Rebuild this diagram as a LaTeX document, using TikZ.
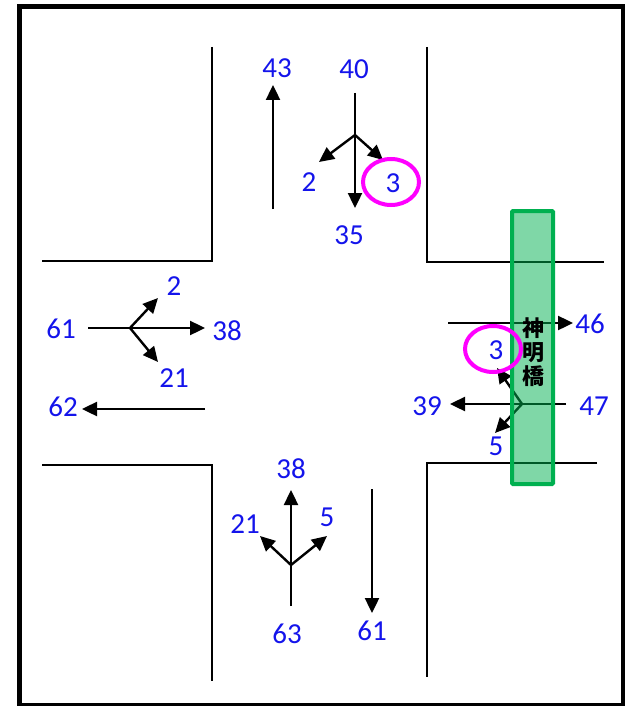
\documentclass[tikz,border=0pt]{standalone}
\usepackage{fontspec}
\setmainfont{Carlito}
\newfontfamily\cjk{Noto Sans CJK JP}
\usetikzlibrary{arrows.meta}
\definecolor{numblue}{RGB}{20,20,235}
\definecolor{bridgegreen}{RGB}{0,176,80}
\definecolor{ringmag}{RGB}{255,0,255}
\tikzset{
  road/.style={line width=1.5pt, black},
  flow/.style={line width=2.4pt, black, -{Triangle[length=15pt,width=14pt]}},
  flowline/.style={line width=2.4pt, black},
  num/.style={text=numblue, font=\fontsize{29}{31}\selectfont, inner sep=0pt},
  ring/.style={draw=ringmag, line width=4pt},
}
\begin{document}
\begin{tikzpicture}[x=1pt,y=-1pt]
\useasboundingbox (0,0) rectangle (624,706);
\draw[line width=5pt] (19.5,7) rectangle (623,705.5);

% road edges
\draw[road] (212,47) -- (212,261) -- (42,261);
\draw[road] (427,47) -- (427,262) -- (604,262);
\draw[road] (42,465) -- (212,465) -- (212,681);
\draw[road] (597,463) -- (427,463) -- (427,677);

% north approach
\coordinate (n0) at (355,93);
\coordinate (nb) at (355,135);
\coordinate (nd) at (355,208);
\coordinate (nl) at (319,162);
\coordinate (nr) at (383,160);
\draw[flowline] (n0) -- (nb);
\draw[flow] (nb) -- (nd);
\draw[flow] (nb) -- (nl);
\draw[flow] (nb) -- (nr);
\coordinate (nu0) at (273,209);
\coordinate (nu1) at (273,85);
\draw[flow] (nu0) -- (nu1);
\node[num] (t43) at (277,68) {43};
\node[num] (t40) at (354,69) {40};
\node[num] (t2n) at (309,182) {2};
\node[num] (t35) at (349,235) {35};
\node[num] (t3n) at (393,183) {3};
\draw[ring] (391,182) ellipse [x radius=28, y radius=23];

% west approach
\coordinate (w0) at (88,328);
\coordinate (wb) at (130,328);
\coordinate (we) at (205,328);
\coordinate (wu) at (158,298);
\coordinate (wd) at (158,362);
\draw[flowline] (w0) -- (wb);
\draw[flow] (wb) -- (we);
\draw[flow] (wb) -- (wu);
\draw[flow] (wb) -- (wd);
\coordinate (ww0) at (205,409);
\coordinate (ww1) at (82,409);
\draw[flow] (ww0) -- (ww1);
\node[num] (t61w) at (61,329) {61};
\node[num] (t2w) at (174,286) {2};
\node[num] (t38w) at (227,331) {38};
\node[num] (t21w) at (174,378) {21};
\node[num] (t62) at (63,407) {62};

% south approach
\coordinate (s0) at (291,606);
\coordinate (sb) at (291,565);
\coordinate (su) at (291,490);
\coordinate (sl) at (260,536);
\coordinate (sr) at (327,536);
\draw[flowline] (s0) -- (sb);
\draw[flow] (sb) -- (su);
\draw[flow] (sb) -- (sl);
\draw[flow] (sb) -- (sr);
\coordinate (sd0) at (372,489);
\coordinate (sd1) at (372,613);
\draw[flow] (sd0) -- (sd1);
\node[num] (t38s) at (291,469) {38};
\node[num] (t21s) at (245,524) {21};
\node[num] (t5s) at (327,517) {5};
\node[num] (t63) at (287,634) {63};
\node[num] (t61s) at (372,631) {61};

% east approach
\coordinate (e0) at (448,323);
\coordinate (e1) at (573,323);
\draw[flow] (e0) -- (e1);
\coordinate (ei) at (566,404);
\coordinate (eb) at (522,404);
\coordinate (eo) at (450,404);
\coordinate (eu) at (497,368);
\coordinate (ed) at (495,433);
\draw[flowline] (ei) -- (eb);
\draw[flow] (eb) -- (eo);
\draw[flow] (eb) -- (eu);
\draw[flow] (eb) -- (ed);
\node[num] (t46) at (590,324) {46};
\node[num] (t47) at (594,406) {47};
\node[num] (t39) at (427,406) {39};
\node[num] (t5e) at (496,446) {5};
\node[num] (t3e) at (496,350) {3};

% bridge
\fill[bridgegreen, fill opacity=0.5] (512,211) rectangle (553,484);
\draw[bridgegreen, line width=4pt, rounded corners=1pt] (512,211) rectangle (553,484);
\node[font=\cjk\bfseries\fontsize{22}{24}\selectfont, align=center, inner sep=0pt] (bridge) at (533,352) {神\\明\\橋};
\draw[ring] (493,349) ellipse [x radius=28, y radius=23];
\end{tikzpicture}
\end{document}
